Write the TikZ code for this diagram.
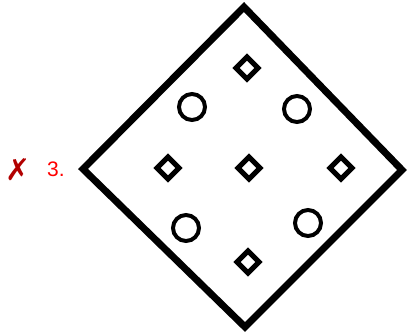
\documentclass[tikz,border=0pt]{standalone}
\usepackage{fontspec}
\setmainfont{Liberation Sans}
\newfontfamily\symfont{DejaVu Sans}
\begin{document}
\begin{tikzpicture}[x=1pt,y=-1pt,
  outer/.style={draw=black,line width=7pt,line join=miter},
  smalldia/.style={draw=black,line width=5pt,line join=miter},
  hole/.style={draw=black,line width=4pt,fill=white},
  lbl/.style={text=red,font=\fontsize{21}{21}\selectfont,inner sep=0pt},
  xmark/.style={text=red!70!black,font=\symfont\fontsize{30}{30}\selectfont,inner sep=0pt}]
\useasboundingbox (0,0) rectangle (408,335);
\fill[white] (0,0) rectangle (408,335);
\coordinate (T) at (244,7);
\coordinate (R) at (402,170);
\coordinate (B) at (245,327);
\coordinate (L) at (83,169);
\draw[outer] (T) -- (R) -- (B) -- (L) -- cycle;
\foreach \n/\x/\y in {d1/247/68, d2/168/168, d3/249/168, d4/341/168, d5/248/262}{
  \draw[smalldia] (\x,\y-11) -- (\x+11,\y) -- (\x,\y+11) -- (\x-11,\y) -- cycle;
}
\foreach \n/\x/\y in {c1/192/107, c2/297/109, c3/186/228, c4/308/223}{
  \draw[hole] (\x,\y) circle (13);
}
\node[xmark] (x) at (18,170) {✗};
\node[lbl] (num) at (56,169) {3.};
\end{tikzpicture}
\end{document}
